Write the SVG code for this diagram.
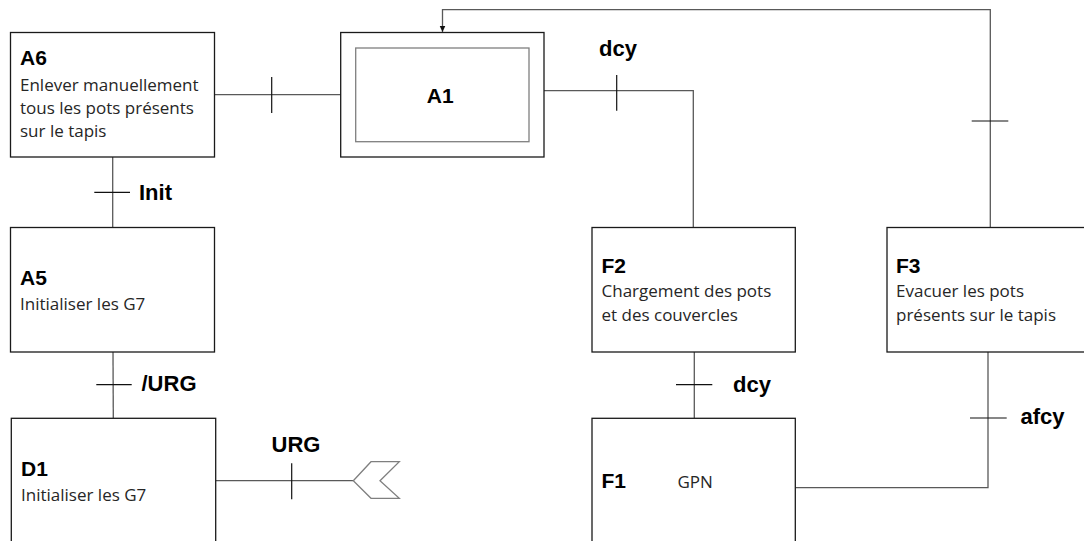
<svg xmlns="http://www.w3.org/2000/svg" width="1084" height="541" viewBox="0 0 1084 541">
  <style>
    .box { fill: #ffffff; stroke: #1a1a1a; stroke-width: 1.3; }
    .inner { fill: none; stroke: #7f7f7f; stroke-width: 1.3; }
    .link { fill: none; stroke: #595959; stroke-width: 1.3; }
    .tick { fill: none; stroke: #111111; stroke-width: 1.2; }
    .step { font-family: "Liberation Sans", Arial, sans-serif; font-weight: bold; font-size: 21px; fill: #000000; }
    .trans { font-family: "Liberation Sans", Arial, sans-serif; font-weight: bold; font-size: 22px; fill: #000000; }
    .desc { font-family: "Open Sans", "Liberation Sans", sans-serif; font-size: 17px; fill: #262626; }
  </style>
  <defs>
    <marker id="arrow" markerWidth="8" markerHeight="8" refX="6.5" refY="3" orient="auto" markerUnits="userSpaceOnUse">
      <path d="M0,0 L6.5,3 L0,6 Z" fill="#111111"/>
    </marker>
  </defs>
  <rect width="1084" height="541" fill="#ffffff"/>

  <g id="connectors">
    <!-- A6 -> A1 -->
    <line class="link" x1="215" y1="94.7" x2="341" y2="94.7"/>
    <line class="tick" x1="271.7" y1="77" x2="271.7" y2="113"/>
    <!-- A1 -> F2 -->
    <polyline class="link" points="544,90.7 693.3,90.7 693.3,227.5"/>
    <line class="tick" x1="616.7" y1="75" x2="616.7" y2="110.7"/>
    <text class="trans" x="618" y="56" text-anchor="middle">dcy</text>
    <!-- F3 -> A1 (loop back) -->
    <polyline class="link" points="990.3,227.5 990.3,9.7 442.5,9.7 442.5,32" marker-end="url(#arrow)"/>
    <line class="tick" x1="971.7" y1="121" x2="1008.3" y2="121"/>
    <!-- A6 -> A5 -->
    <line class="link" x1="112.7" y1="157" x2="112.7" y2="227.5"/>
    <line class="tick" x1="94.3" y1="192.3" x2="130" y2="192.3"/>
    <text class="trans" x="139" y="200">Init</text>
    <!-- A5 -> D1 -->
    <line class="link" x1="113" y1="352" x2="113.3" y2="418.3"/>
    <line class="tick" x1="96.3" y1="384.7" x2="131.7" y2="384.7"/>
    <text class="trans" x="141.5" y="391">/URG</text>
    <!-- D1 -> URG -->
    <line class="link" x1="216" y1="480.7" x2="353.3" y2="480.7"/>
    <line class="tick" x1="291.7" y1="463.3" x2="291.7" y2="499.3"/>
    <text class="trans" x="296" y="451.5" text-anchor="middle">URG</text>
    <polygon points="353.3,480.7 371,461.7 399.3,461.7 380,480.7 399.3,498.3 371,498.3" fill="#ffffff" stroke="#7f7f7f" stroke-width="1.3"/>
    <!-- F2 -> F1 -->
    <line class="link" x1="694.3" y1="352" x2="694.3" y2="418.3"/>
    <line class="tick" x1="676" y1="384.7" x2="712.3" y2="384.7"/>
    <text class="trans" x="733" y="391.5">dcy</text>
    <!-- F1 -> F3 -->
    <polyline class="link" points="795.3,487.7 988,487.7 988,352"/>
    <line class="tick" x1="970" y1="418" x2="1006.7" y2="418"/>
    <text class="trans" x="1020.5" y="424">afcy</text>
  </g>

  <g id="A6">
    <rect class="box" x="10.5" y="32.5" width="204" height="124.5"/>
    <text class="step" x="20" y="65">A6</text>
    <text class="desc" x="20" y="90.7">Enlever manuellement</text>
    <text class="desc" x="20" y="113.5">tous les pots présents</text>
    <text class="desc" x="20" y="136.5">sur le tapis</text>
  </g>

  <g id="A1">
    <rect class="box" x="340.7" y="32.5" width="203.3" height="124.5"/>
    <rect class="inner" x="355.7" y="48" width="173.3" height="93.7"/>
    <text class="step" x="440.3" y="103" text-anchor="middle">A1</text>
  </g>

  <g id="A5">
    <rect class="box" x="10.5" y="227.5" width="204" height="124.5"/>
    <text class="step" x="20" y="284.5">A5</text>
    <text class="desc" x="20" y="310">Initialiser les G7</text>
  </g>

  <g id="D1">
    <rect class="box" x="11.3" y="418.3" width="204.4" height="140"/>
    <text class="step" x="21" y="476">D1</text>
    <text class="desc" x="21" y="500.7">Initialiser les G7</text>
  </g>

  <g id="F2">
    <rect class="box" x="592" y="227.5" width="203.3" height="124.5"/>
    <text class="step" x="601.5" y="272.7">F2</text>
    <text class="desc" x="601.5" y="297.3">Chargement des pots</text>
    <text class="desc" x="601.5" y="320.7">et des couvercles</text>
  </g>

  <g id="F1">
    <rect class="box" x="592" y="418.3" width="203.3" height="140"/>
    <text class="step" x="601.5" y="488.3">F1</text>
    <text class="desc" x="677.5" y="488.3" font-size="15.5px">GPN</text>
  </g>

  <g id="F3">
    <rect class="box" x="887" y="227.5" width="220" height="124.5"/>
    <text class="step" x="896" y="272.7">F3</text>
    <text class="desc" x="896" y="297.3">Evacuer les pots</text>
    <text class="desc" x="896" y="320.7">présents sur le tapis</text>
  </g>
</svg>
